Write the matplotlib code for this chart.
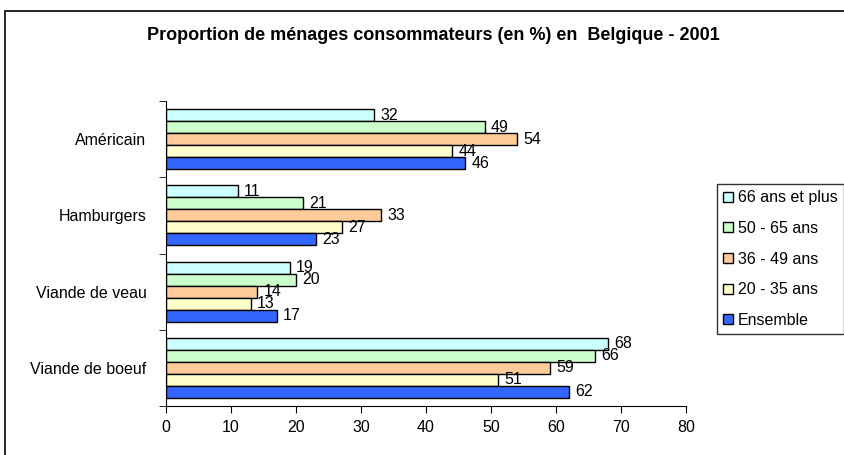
import numpy as np
import matplotlib
matplotlib.use("Agg")
import matplotlib.pyplot as plt
from matplotlib.patches import Rectangle, Patch

plt.rcParams['font.family'] = ['Liberation Sans', 'DejaVu Sans']

categories = ["Américain", "Hamburgers", "Viande de veau", "Viande de boeuf"]
series = ["66 ans et plus", "50 - 65 ans", "36 - 49 ans", "20 - 35 ans", "Ensemble"]
values = [
    [32, 11, 19, 68],   # 66 ans et plus
    [49, 21, 20, 66],   # 50 - 65 ans
    [54, 33, 14, 59],   # 36 - 49 ans
    [44, 27, 13, 51],   # 20 - 35 ans
    [46, 23, 17, 62],   # Ensemble
]
colors = ["#CCFFFF", "#CCFFCC", "#FFCC99", "#FFFFCC", "#3366FF"]

fs = 11.5

fig = plt.figure(figsize=(8.44, 4.55), dpi=100)
ax = fig.add_axes([166/844, 1 - 406/455, 520/844, 305/455])

# outer chart frame (cut by the image edges on right and bottom)
fig.patches.append(Rectangle((5/844, -0.1), 1.2, 1 - 11/455 + 0.1,
                             transform=fig.transFigure, fill=False,
                             edgecolor="black", linewidth=1.2))

y = np.arange(len(categories))
h = 0.158
for i, (name, vals, c) in enumerate(zip(series, values, colors)):
    pos = y + (i - 2) * h
    ax.barh(pos, vals, height=h, color=c, edgecolor="black", linewidth=1.0)
    for p, v in zip(pos, vals):
        ax.text(v + 1, p, str(v), va="center", ha="left", fontsize=fs)

ax.set_xlim(0, 80)
ax.set_ylim(3.5, -0.5)
ax.set_xticks(np.arange(0, 81, 10))
ax.set_yticks(y)
ax.set_yticklabels(categories)
ax.set_yticks(np.arange(-0.5, 4, 1), minor=True)
ax.tick_params(axis="y", which="major", length=0, pad=14, labelsize=fs)
ax.tick_params(axis="y", which="minor", length=5, direction="out")
ax.tick_params(axis="x", length=5, direction="out", pad=5, labelsize=fs)
for s in ["top", "right"]:
    ax.spines[s].set_visible(False)

fig.text(433/844, 1 - 35/455, "Proportion de ménages consommateurs (en %) en  Belgique - 2001",
         ha="center", va="center", fontsize=13, fontweight="bold")

handles = [Patch(facecolor=c, edgecolor="black", label=s) for s, c in zip(series, colors)]
leg = fig.legend(handles=handles, loc="upper left", bbox_to_anchor=(717/844, 1 - 184/455),
                 fontsize=fs, frameon=True, fancybox=False, handlelength=0.6,
                 handleheight=0.6, handletextpad=0.3, labelspacing=0.98,
                 borderaxespad=0, borderpad=0.4)
leg.get_frame().set_edgecolor("black")
leg.get_frame().set_linewidth(1.0)

fig.savefig("out.png", dpi=100)
